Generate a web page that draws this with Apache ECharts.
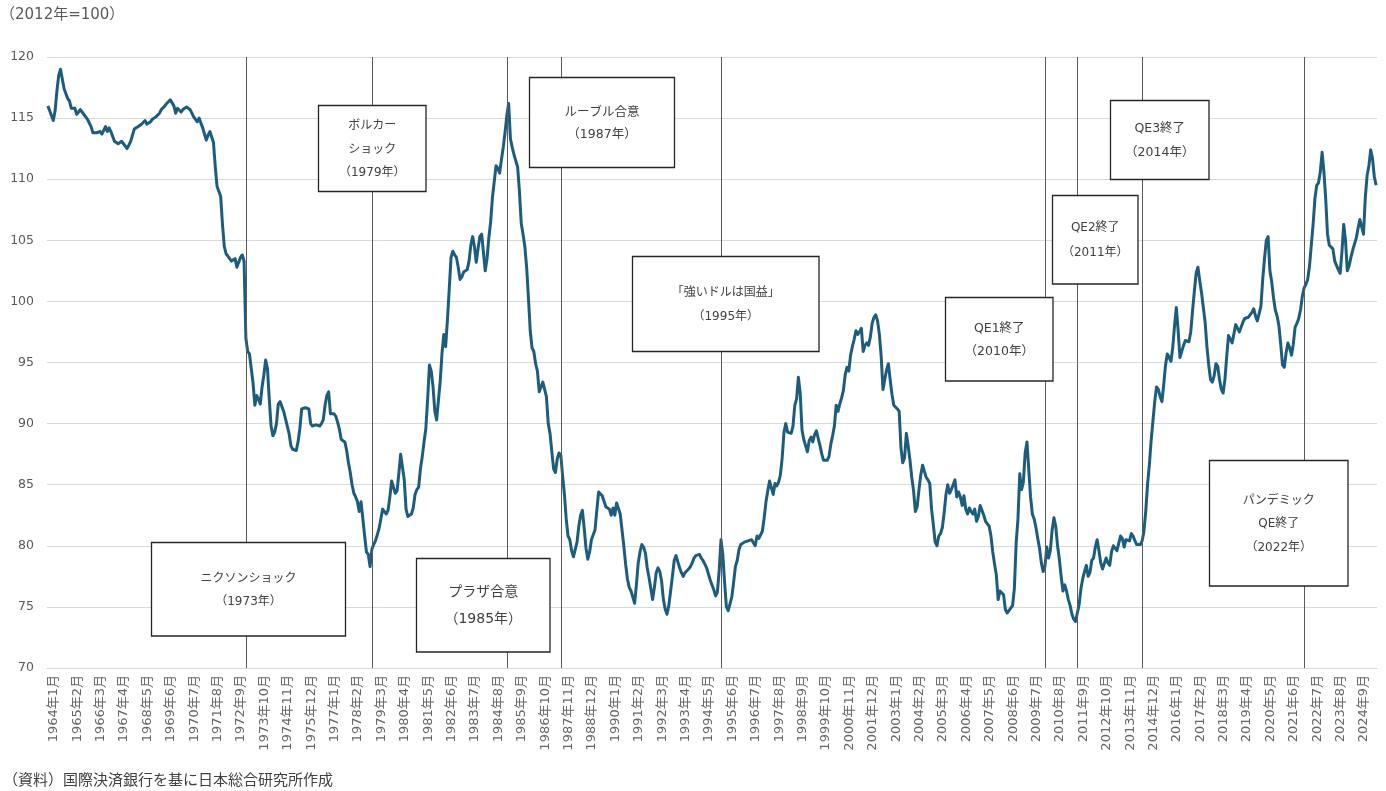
<!DOCTYPE html>
<html>
<head>
<meta charset="utf-8">
<script src="https://cdn.jsdelivr.net/npm/echarts@6/dist/echarts.min.js"></script>
<style>
html,body{margin:0;padding:0;background:#ffffff;}
#chart{width:1386px;height:791px;}
</style>
</head>
<body>
<div id="chart"></div>
<script>
// ---- data (monthly, 2012=100) ----
const startYear = 1964;

const v1960s = [
  116.0,115.6,115.2,114.8,115.6,117.2,118.5,119.0,118.2,117.4,117.0,116.6, // 1964
  116.4,115.8,115.9,115.8,115.3,115.5,115.7,115.5,115.4,115.1,114.9,114.6, // 1965
  114.3,113.8,113.7,113.8,113.8,113.9,113.7,114.0,114.3,113.9,114.2,113.9, // 1966
  113.5,113.1,113.0,112.9,113.0,113.1,112.9,112.7,112.5,112.6,113.1,113.6, // 1967
  114.1,114.2,114.3,114.3,114.5,114.6,114.8,114.5,114.4,114.7,114.9,115.0, // 1968
  115.1,115.2,115.4,115.7,115.8,116.0,116.2,116.3,116.5,116.4,116.0,115.4  // 1969
];
const v1970s = [
  115.8,115.7,115.5,115.7,115.8,115.9,115.8,115.7,115.4,115.1,114.9,114.7, // 1970
  115.0,115.0,114.2,113.7,113.2,113.6,113.9,114.0,113.0,111.0,109.4,109.3, // 1971
  108.6,106.3,104.5,103.9,103.7,103.5,103.3,103.4,103.5,102.8,103.2,103.6, // 1972
  103.8,103.3,97.0,95.9,95.7,94.5,93.3,91.5,92.3,92.0,91.6,93.0,           // 1973
  94.0,95.2,94.5,92.0,89.8,89.0,89.3,90.0,91.6,91.8,91.7,91.0,             // 1974
  90.4,89.8,89.2,88.2,87.9,88.0,87.8,88.5,89.6,91.2,91.3,91.3,             // 1975
  91.4,91.2,90.0,89.8,89.7,89.9,90.0,89.8,90.0,90.3,91.5,92.3,             // 1976
  92.6,90.8,90.8,90.8,90.6,90.1,89.5,88.7,88.6,88.5,87.8,86.8,             // 1977
  86.0,85.0,84.3,84.0,83.6,82.8,83.6,82.2,80.8,79.5,79.3,78.3,             // 1978
  79.7,80.1,80.4,80.9,81.4,82.2,83.0,83.0,82.6,82.9,84.0,85.3              // 1979
];
const v1980s = [
  84.8,84.3,84.5,85.9,87.5,87.6,85.4,83.0,82.4,82.3,82.6,83.1,             // 1980
  84.2,84.6,84.8,86.3,87.3,88.5,89.6,92.0,94.8,94.3,93.0,91.0,             // 1981
  90.3,90.4,93.5,95.8,97.3,96.3,98.5,101.0,103.6,104.1,103.8,103.6,        // 1982
  102.8,101.8,102.0,102.4,102.5,102.6,103.3,104.6,105.3,104.5,103.2,104.3, // 1983
  105.3,105.5,104.0,102.5,103.5,105.2,106.5,108.5,109.8,111.1,110.9,110.5, // 1984
  111.6,112.6,113.8,115.2,116.2,113.3,112.6,112.0,111.5,111.0,109.0,106.4, // 1985
  105.5,104.5,102.8,100.3,97.6,96.2,95.9,94.9,94.3,92.6,92.6,93.4,         // 1986
  93.3,92.2,90.0,89.2,87.7,86.3,86.0,87.1,87.6,87.4,85.7,84.2,             // 1987
  82.2,80.8,80.5,79.6,79.1,79.0,80.3,81.6,82.5,82.9,81.4,79.8,             // 1988
  78.9,79.5,80.5,80.9,81.3,82.9,84.4,84.4,84.1,84.2,83.2,83.3              // 1989
];
const v1990s = [
  83.0,82.5,83.1,82.5,83.5,83.4,82.6,81.3,80.0,78.5,77.3,76.6,             // 1990
  76.3,76.2,75.3,76.8,78.6,79.5,80.1,79.9,79.4,78.2,77.4,76.5,             // 1991
  75.6,76.6,77.8,78.2,77.9,77.1,75.6,74.8,74.4,75.1,76.3,77.5,             // 1992
  78.8,79.2,79.1,78.2,77.8,77.5,77.8,77.9,78.1,78.3,78.6,79.0,             // 1993
  79.2,79.3,79.3,79.0,78.8,78.5,78.2,77.7,77.2,76.8,76.4,75.9,             // 1994
  76.2,78.0,80.5,79.3,77.0,75.0,74.7,74.7,75.8,77.0,78.3,78.8,             // 1995
  79.7,80.1,80.2,80.3,80.3,80.4,80.5,80.5,80.6,80.0,80.8,80.6,             // 1996
  80.7,81.2,82.3,83.6,84.5,85.3,85.3,84.2,85.1,84.9,85.2,85.8,             // 1997
  87.2,89.3,90.0,89.3,89.2,89.2,89.8,91.5,92.0,93.8,92.5,89.5,             // 1998
  88.7,88.2,87.7,88.6,88.9,88.5,89.1,89.4,89.3,88.2,87.5,87.0              // 1999
];
const v2000s = [
  87.0,87.0,87.3,88.3,89.0,89.8,91.5,91.0,91.6,92.1,92.7,94.0,             // 2000
  94.6,94.3,95.6,96.3,96.9,97.6,97.3,97.5,97.8,95.9,96.4,96.6,             // 2001
  96.4,97.1,98.2,98.7,98.9,98.4,97.3,95.5,92.8,93.6,94.4,94.9,             // 2002
  93.6,92.4,91.5,91.4,91.2,91.0,88.0,86.8,87.2,89.2,88.2,87.0,             // 2003
  85.6,84.5,82.8,83.2,84.6,85.8,86.6,86.5,85.6,85.4,85.1,83.0,             // 2004
  81.7,80.3,80.0,80.8,81.0,81.5,82.7,84.2,85.0,84.3,84.6,85.0,             // 2005
  85.4,84.0,84.4,84.0,83.3,84.1,83.0,82.6,83.1,82.8,82.6,83.0,             // 2006
  82.0,82.4,83.3,82.9,82.5,82.0,81.9,81.6,80.8,79.5,78.5,77.6,             // 2007
  75.6,76.3,76.4,76.0,74.8,74.5,74.7,74.9,75.1,76.5,80.2,82.2,             // 2008
  85.9,84.6,85.2,87.6,88.5,88.6,84.0,82.6,82.2,81.5,80.6,79.8              // 2009
];
const v2010s = [
  78.6,77.9,78.3,79.9,79.0,79.6,81.3,82.3,81.6,80.0,78.9,77.5,             // 2010
  76.3,76.8,76.3,75.6,75.1,74.4,74.0,73.8,73.8,75.2,76.5,77.3,             // 2011
  77.9,78.4,77.5,77.8,78.8,79.0,79.9,80.5,79.6,78.6,78.1,78.1,             // 2012
  79.0,78.6,78.4,79.5,80.0,79.8,79.6,80.2,80.8,80.6,79.9,80.5,             // 2013
  80.6,80.4,81.0,80.8,80.4,80.1,80.0,80.1,80.4,81.2,82.8,85.0,             // 2014
  86.6,88.6,90.2,91.8,93.0,92.8,92.2,91.8,93.2,94.8,95.7,95.8,             // 2015
  95.1,96.2,98.0,99.5,97.6,95.4,95.4,96.4,96.8,96.8,96.7,97.5,             // 2016
  99.2,100.8,102.3,102.8,101.7,100.7,99.5,98.3,96.3,94.8,93.6,93.4,        // 2017
  93.9,94.9,94.7,93.6,92.8,92.5,93.6,95.5,97.2,96.9,96.6,96.5,             // 2018
  98.1,98.0,97.5,97.5,98.3,98.6,98.7,98.7,98.6,99.1,99.4,98.8              // 2019
];
const v2020s = [
  98.4,98.4,99.6,101.8,103.5,105.0,105.3,102.5,101.6,100.3,99.3,98.8,      // 2020
  98.0,96.5,94.8,94.6,95.8,96.6,96.2,95.6,96.5,97.9,98.2,98.6,             // 2021
  99.3,100.4,101.1,101.4,101.8,102.9,104.6,106.3,108.4,109.5,109.7,110.6,  // 2022
  112.2,110.6,108.4,105.5,104.6,104.5,104.3,103.3,103.4,102.6,102.3,104.0, // 2023
  106.3,105.0,102.5,102.9,103.6,104.2,104.7,105.2,106.0,106.7,106.1,105.5, // 2024
  108.5,110.3,111.1,112.4,111.7,110.2,109.5                                // 2025
];

const values = [].concat(v1960s, v1970s, v1980s, v1990s, v2000s, v2010s, v2020s);
const categories = values.map((_, i) => (startYear + Math.floor(i / 12)) + '年' + (i % 12 + 1) + '月');

// y-axis ticks
const yMin = 70, yMax = 120, yStep = 5;

// event lines (category positions)
const eventMonths = ['1973年3月','1979年1月','1985年4月','1987年10月','1995年3月','2010年3月','2011年9月','2014年9月','2022年3月'];

// annotation texts
const noteTexts = [
  'ニクソンショック\n（1973年）',
  'ボルカー\nショック\n（1979年）',
  'プラザ合意\n（1985年）',
  'ルーブル合意\n（1987年）',
  '「強いドルは国益」\n（1995年）',
  'QE1終了\n（2010年）',
  'QE2終了\n（2011年）',
  'QE3終了\n（2014年）',
  'パンデミック\nQE終了\n（2022年）'
];
const titleText = '（2012年=100）';
const sourceText = '（資料）国際決済銀行を基に日本総合研究所作成';

// ---- layout / style ----
const FONT = '"DejaVu Sans", "Noto Sans CJK JP", sans-serif';
const CJK = '"Noto Sans CJK JP", sans-serif';
const noteBoxes = [
  {x:151.5, y:542.5, w:194, h:93.5, fs:12, lh:23.5},
  {x:318.5, y:105.5, w:107.5, h:86, fs:12, lh:23.5},
  {x:416.5, y:558.5, w:133.5, h:93.5, fs:14, lh:27},
  {x:529.5, y:77.5, w:145, h:90, fs:12.5, lh:22.5},
  {x:632.5, y:256.5, w:186.5, h:95, fs:12, lh:23.5},
  {x:945.5, y:297.5, w:107.5, h:83.5, fs:12.5, lh:23},
  {x:1052.5, y:195.5, w:85.5, h:88.5, fs:12, lh:25},
  {x:1110.5, y:100.5, w:98.5, h:79, fs:12.5, lh:24},
  {x:1209.5, y:460.5, w:138.5, h:125.5, fs:12, lh:23.5}
];

const graphics = [];
noteTexts.forEach((t, i) => {
  const b = noteBoxes[i];
  graphics.push({
    type: 'group', z: 100,
    children: [
      {type:'rect', z:100, shape:{x:b.x, y:b.y, width:b.w, height:b.h},
       style:{fill:'#ffffff', stroke:'#262626', lineWidth:1.3}},
      {type:'text', z:101, x:b.x + b.w / 2, y:b.y + b.h / 2 + 1,
       style:{text:t, fill:'#404040', fontSize:b.fs, fontFamily:FONT, lineHeight:b.lh,
              align:'center', verticalAlign:'middle'}}
    ]
  });
});
graphics.push({type:'text', z:100, left:0, top:8,
  style:{text:titleText, fill:'#595959', fontSize:15, fontFamily:FONT}});
graphics.push({type:'text', z:100, left:3, top:772,
  style:{text:sourceText, fill:'#404040', fontSize:15, fontFamily:CJK}});

const chart = echarts.init(document.getElementById('chart'), null, {renderer:'canvas'});
chart.setOption({
  animation: false,
  backgroundColor: '#ffffff',
  grid: {left:47, right:9, top:57, bottom:123, containLabel:false},
  xAxis: {
    type: 'category',
    data: categories,
    boundaryGap: true,
    axisLine: {show:true, lineStyle:{color:'#d9d9d9', width:1}},
    axisTick: {show:false},
    axisLabel: {interval:12, rotate:90, fontSize:13, color:'#666666', fontFamily:FONT,
                margin:7, verticalAlign:'top', lineHeight:12},
    splitLine: {show:false}
  },
  yAxis: {
    type: 'value',
    min: yMin, max: yMax, interval: yStep,
    axisLine: {show:false},
    axisTick: {show:false},
    axisLabel: {fontSize:12.5, color:'#595959', fontFamily:FONT, margin:13},
    splitLine: {show:true, lineStyle:{color:'#d9d9d9', width:1}}
  },
  series: [
    {
      name: 'events', type: 'line', data: [], z: 1, silent: true,
      markLine: {
        silent: true, symbol: ['none','none'],
        lineStyle: {color:'#595959', width:1, type:'solid'},
        label: {show:false},
        data: eventMonths.map(m => ({xAxis: m}))
      }
    },
    {
      name: '実質実効為替レート', type: 'line', data: values, z: 3,
      showSymbol: false, symbol: 'none', smooth: false,
      lineStyle: {color:'#1c5d7e', width:3, join:'round'},
      itemStyle: {color:'#1c5d7e'}
    }
  ],
  graphic: graphics
});
</script>
</body>
</html>
